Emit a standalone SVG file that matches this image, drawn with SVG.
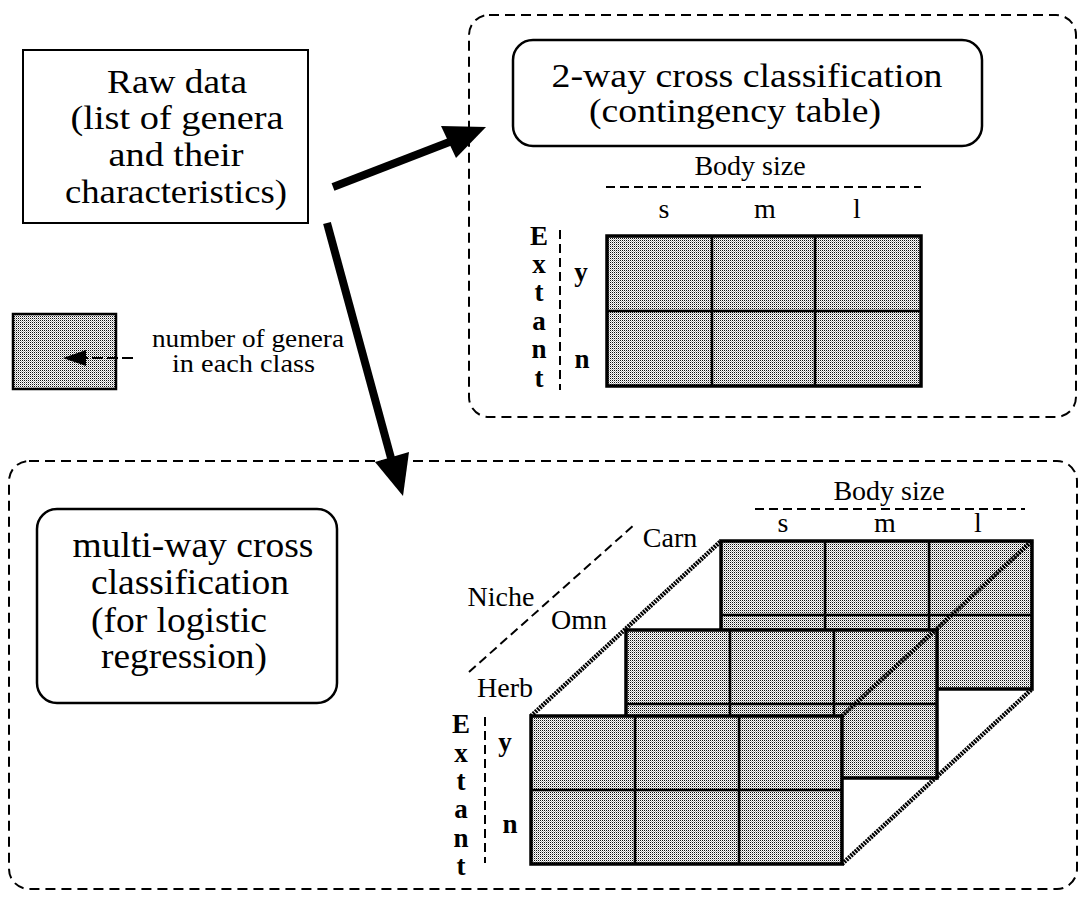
<svg xmlns="http://www.w3.org/2000/svg" width="1080" height="898" viewBox="0 0 1080 898">
<defs>
<style>
text{font-family:"Liberation Serif","Times New Roman",serif;fill:#000}
.big{font-size:34px;text-anchor:middle}
.big2{font-size:36px;text-anchor:middle}
.sm{font-size:28px;text-anchor:middle}
.bd{font-size:27px;text-anchor:middle;font-weight:bold}
.lg{font-size:25px}
.dashbox{fill:none;stroke:#000;stroke-width:2;stroke-dasharray:10 6}
.rbox{fill:#fff;stroke:#000;stroke-width:2.5}
.axis{fill:none;stroke:#000;stroke-width:2;stroke-dasharray:9 5}
.cell{fill:url(#dots);stroke:#000;stroke-width:3.5}
.grid{stroke:#000;stroke-width:2.5;fill:none}
.edge{stroke:#000;stroke-width:4.5;stroke-dasharray:2 1;fill:none}
.conn{stroke:#000;stroke-width:8;fill:none}
</style>
<pattern id="dots" width="2" height="2" patternUnits="userSpaceOnUse">
<rect width="2" height="2" fill="#fff"/>
<rect width="1" height="1" fill="#111"/>
<rect x="1" y="1" width="1" height="1" fill="#b0b0b0"/>
</pattern>
</defs>
<rect width="1080" height="898" fill="#fff"/>

<g id="two-way-frame">
<rect class="dashbox" x="469" y="15" width="607" height="402" rx="20"/>
</g>
<g id="multi-way-frame">
<rect class="dashbox" x="9" y="461" width="1068" height="428" rx="20"/>
</g>

<g id="raw-data">
<rect x="23" y="50" width="285" height="173" fill="#fff" stroke="#000" stroke-width="2"/>
<text class="big" x="177" y="93" textLength="140" lengthAdjust="spacingAndGlyphs">Raw data</text>
<text class="big" x="177" y="129" textLength="213" lengthAdjust="spacingAndGlyphs">(list of genera</text>
<text class="big" x="176" y="166" textLength="135" lengthAdjust="spacingAndGlyphs">and their</text>
<text class="big" x="176" y="203" textLength="222" lengthAdjust="spacingAndGlyphs">characteristics)</text>
</g>

<g id="legend">
<rect x="13" y="314" width="103" height="75" fill="url(#dots)" stroke="#000" stroke-width="2.5"/>
<line x1="133" y1="358" x2="84" y2="358" stroke="#000" stroke-width="2" stroke-dasharray="11 4"/>
<polygon points="63,358 86,350 86,366" fill="#000"/>
<text class="lg" x="152" y="347" textLength="192" lengthAdjust="spacingAndGlyphs">number of genera</text>
<text class="lg" x="172" y="372" textLength="143" lengthAdjust="spacingAndGlyphs">in each class</text>
</g>

<g id="two-way">
<rect class="rbox" x="513" y="40" width="469" height="106" rx="20"/>
<text class="big" x="747" y="87" textLength="391" lengthAdjust="spacingAndGlyphs">2-way cross classification</text>
<text class="big" x="735" y="122" textLength="292" lengthAdjust="spacingAndGlyphs">(contingency table)</text>
<text class="sm" x="750" y="175">Body size</text>
<line class="axis" x1="606" y1="187" x2="921" y2="187"/>
<text class="sm" x="664" y="218">s</text>
<text class="sm" x="765" y="218">m</text>
<text class="sm" x="857" y="218">l</text>
<text class="bd" x="539" y="245">E</text>
<text class="bd" x="539" y="273">x</text>
<text class="bd" x="539" y="301">t</text>
<text class="bd" x="539" y="330">a</text>
<text class="bd" x="539" y="358">n</text>
<text class="bd" x="539" y="387">t</text>
<line class="axis" x1="560" y1="230" x2="560" y2="390"/>
<text class="bd" x="581" y="281">y</text>
<text class="bd" x="582" y="368">n</text>
<rect class="cell" x="607" y="236" width="314" height="150"/>
<path class="grid" d="M607,311H921M712,236V386M815,236V386"/>
</g>

<g id="multi-way">
<rect class="rbox" x="37" y="509" width="300" height="194" rx="20"/>
<text class="big2" x="193" y="557" textLength="241" lengthAdjust="spacingAndGlyphs">multi-way cross</text>
<text class="big2" x="190" y="594" textLength="198" lengthAdjust="spacingAndGlyphs">classification</text>
<text class="big2" x="179" y="632" textLength="176" lengthAdjust="spacingAndGlyphs">(for logistic</text>
<text class="big2" x="184" y="668" textLength="166" lengthAdjust="spacingAndGlyphs">regression)</text>
</g>

<g id="cube">
<text class="sm" x="889" y="500">Body size</text>
<line class="axis" x1="755" y1="509" x2="1025" y2="509"/>
<text class="sm" x="783" y="532">s</text>
<text class="sm" x="885" y="532">m</text>
<text class="sm" x="978" y="532">l</text>
<text class="sm" x="670" y="547">Carn</text>
<text class="sm" x="501" y="606">Niche</text>
<text class="sm" x="579" y="629">Omn</text>
<text class="sm" x="505" y="697">Herb</text>
<line class="axis" x1="469" y1="672" x2="634" y2="525"/>
<text class="bd" x="461" y="733">E</text>
<text class="bd" x="461" y="762">x</text>
<text class="bd" x="461" y="790">t</text>
<text class="bd" x="461" y="818">a</text>
<text class="bd" x="461" y="847">n</text>
<text class="bd" x="461" y="875">t</text>
<line class="axis" x1="485" y1="717" x2="485" y2="863"/>
<text class="bd" x="505" y="751">y</text>
<text class="bd" x="510" y="833">n</text>
<line class="edge" x1="531" y1="716" x2="721" y2="541"/>
<line class="edge" x1="842" y1="864" x2="1032" y2="689"/>
<g id="table-carn">
<rect class="cell" x="721" y="541" width="311" height="148"/>
<path class="grid" d="M721,615H1032M825,541V689M929,541V689"/>
</g>
<g id="table-omn">
<rect class="cell" x="626" y="630" width="311" height="148"/>
<path class="grid" d="M626,704H937M730,630V778M834,630V778"/>
</g>
<g id="table-herb">
<rect class="cell" x="531" y="716" width="311" height="148"/>
<path class="grid" d="M531,790H842M635,716V864M739,716V864"/>
</g>
<line class="edge" x1="842" y1="716" x2="1032" y2="541"/>
</g>

<g id="connectors">
<line class="conn" x1="333" y1="187" x2="452" y2="141"/>
<polygon points="486,127 441,126 456,158" fill="#000"/>
<line class="conn" x1="327" y1="223" x2="391" y2="458"/>
<polygon points="403,496 375,462 409,452" fill="#000"/>
</g>
</svg>
